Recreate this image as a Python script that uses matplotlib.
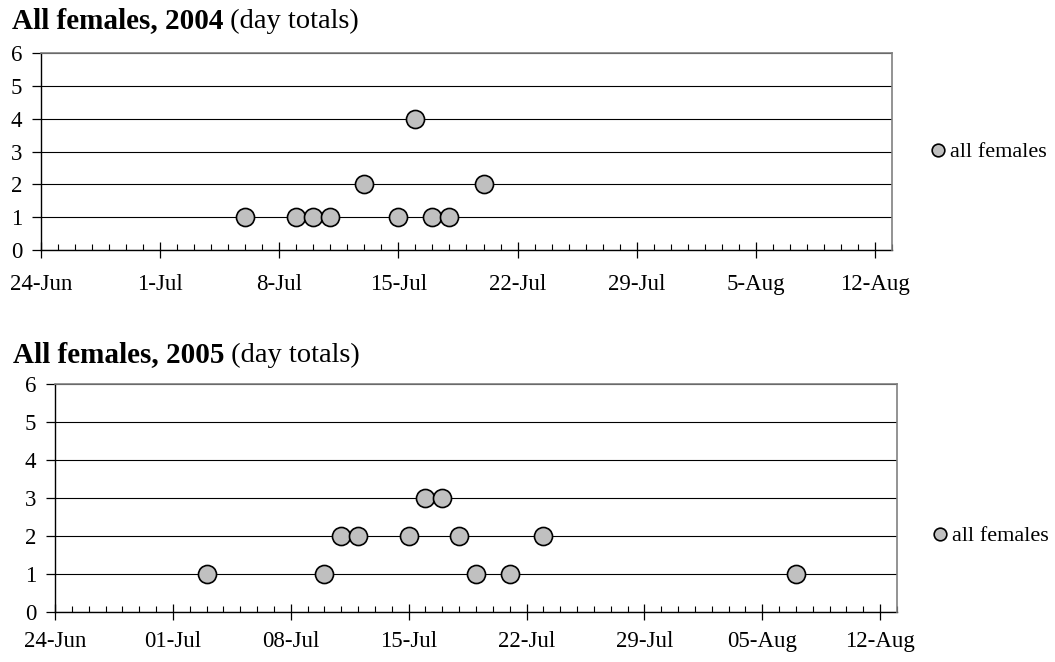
import pandas as pd
import matplotlib.pyplot as plt
from matplotlib.ticker import FuncFormatter

plt.rcParams['font.family'] = ['Liberation Serif', 'DejaVu Serif']

# day totals
dates_2004 = ['2004-07-06', '2004-07-09', '2004-07-10', '2004-07-11', '2004-07-13',
              '2004-07-15', '2004-07-16', '2004-07-17', '2004-07-18', '2004-07-20']
counts_2004 = [1, 1, 1, 1, 2, 1, 4, 1, 1, 2]

dates_2005 = ['2005-07-03', '2005-07-10', '2005-07-11', '2005-07-12', '2005-07-15',
              '2005-07-16', '2005-07-17', '2005-07-18', '2005-07-19', '2005-07-21',
              '2005-07-23', '2005-08-07']
counts_2005 = [1, 1, 2, 2, 2, 3, 3, 2, 1, 1, 2, 1]

y_ticks = [0, 1, 2, 3, 4, 5, 6]
series_label = 'all females'

W, H = 1055, 662
fig = plt.figure(figsize=(W / 100, H / 100), dpi=100)


def px_axes(left, top, right, bottom):
    return fig.add_axes([left / W, 1 - bottom / H, (right - left) / W, (bottom - top) / H])


def fmt_nopad(x, pos):
    d = pd.Timestamp(plt.matplotlib.dates.num2date(x))
    return f"{d.day}-{d:%b}"


def fmt_pad(x, pos):
    d = pd.Timestamp(plt.matplotlib.dates.num2date(x))
    return f"{d:%d-%b}"


def draw_panel(ax, year, dates, counts, formatter, title_xy, legend_xy, xpad):
    start = pd.Timestamp(f'{year}-06-24')
    end = pd.Timestamp(f'{year}-08-13')
    d = pd.to_datetime(dates)
    ax.plot(d, counts, 'o', ls='none', ms=13, mfc='#c0c0c0', mec='black', mew=1.2,
            label=series_label, zorder=4, clip_on=False)
    ax.set_xlim(start, end)
    ax.set_ylim(0, 6)
    ax.set_yticks(y_ticks)
    ax.set_xticks(pd.date_range(start, end, freq='7D'))
    ax.set_xticks(pd.date_range(start, end, freq='D'), minor=True)
    ax.xaxis.set_major_formatter(FuncFormatter(formatter))
    ax.yaxis.grid(True, color='black', lw=0.8)
    ax.set_axisbelow(True)
    for s in ['top', 'right']:
        ax.spines[s].set_color('#808080')
        ax.spines[s].set_linewidth(1.2)
        ax.spines[s].set_zorder(5)
    for s in ['left', 'bottom']:
        ax.spines[s].set_linewidth(1.0)
    ax.tick_params(axis='x', which='major', direction='inout', length=12, width=0.9,
                   labelsize=16.5, pad=xpad)
    ax.tick_params(axis='x', which='minor', direction='in', length=4, width=0.8)
    ax.tick_params(axis='y', direction='out', length=6.5, width=0.9, labelsize=16.5, pad=7)

    t1 = fig.text(title_xy[0] / W, 1 - title_xy[1] / H, f'All females, {year}',
                  fontsize=21, fontweight='bold', va='baseline', ha='left')
    ax.annotate(' (day totals)', xy=(1, 0), xycoords=t1, va='bottom', ha='left',
                fontsize=20.5, annotation_clip=False)

    fig.legend(handles=ax.get_lines(), loc='center left', frameon=False,
               bbox_to_anchor=(legend_xy[0] / W, 1 - legend_xy[1] / H),
               fontsize=16, markerscale=0.7, handlelength=0.6, handletextpad=0.25,
               borderpad=0, borderaxespad=0)


ax1 = px_axes(41, 53, 892, 250)
draw_panel(ax1, 2004, dates_2004, counts_2004, fmt_nopad, (12, 28), (931, 152), 11)

ax2 = px_axes(55, 384, 897, 612)
draw_panel(ax2, 2005, dates_2005, counts_2005, fmt_pad, (13, 362), (933, 536), 7.5)

plt.savefig('out.png', dpi=100)
